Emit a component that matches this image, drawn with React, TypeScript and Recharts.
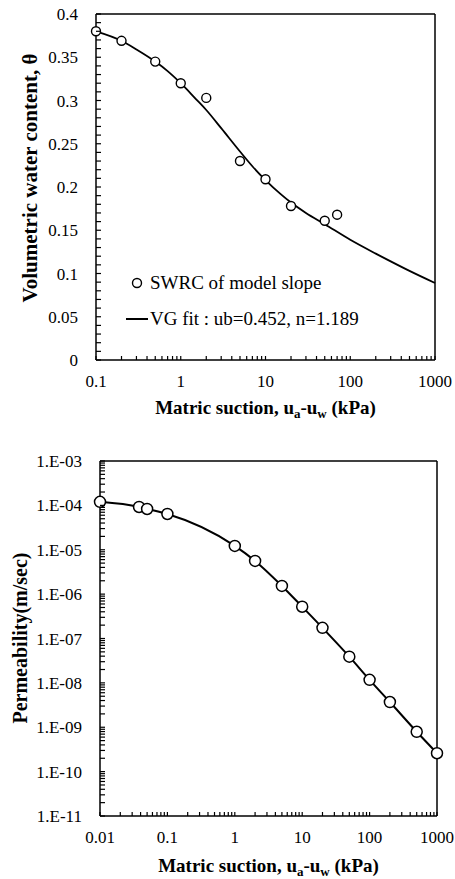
import { ComposedChart, Line, XAxis, YAxis, ReferenceLine } from 'recharts'

const SERIF = 'Liberation Serif, DejaVu Serif, serif'

// SWRC measured points
const swrcSuction = [0.1, 0.2, 0.5, 1, 2, 5, 10, 20, 50, 70]
const swrcTheta = [0.38, 0.369, 0.345, 0.32, 0.303, 0.23, 0.209, 0.178, 0.161, 0.168]

// VG fitted curve
const fitSuction = [0.1, 0.2, 0.3, 0.5, 0.7, 1, 1.5, 2, 3, 5, 7, 10, 15, 20, 30, 50, 100, 200, 300, 500, 1000]
const fitTheta = [0.38, 0.369, 0.359, 0.345, 0.334, 0.32, 0.302, 0.289, 0.268, 0.241, 0.224, 0.208, 0.192, 0.182, 0.17, 0.157, 0.139, 0.123, 0.114, 0.103, 0.089]

// permeability function
const permSuction = [0.01, 0.038, 0.05, 0.1, 1, 2, 5, 10, 20, 50, 100, 200, 500, 1000]
const permK = [1.2e-4, 9.2e-5, 8.3e-5, 6.4e-5, 1.22e-5, 5.6e-6, 1.53e-6, 5.2e-7, 1.74e-7, 3.9e-8, 1.17e-8, 3.7e-9, 7.9e-10, 2.6e-10]

const swrcData = swrcSuction.map((s, i) => ({ s, v: swrcTheta[i] }))
const fitData = fitSuction.map((s, i) => ({ s, v: fitTheta[i] }))
const permData = permSuction.map((s, i) => ({ s, v: permK[i] }))

const logTicks = (lo: number, hi: number) => {
  const t: number[] = []
  for (let e = lo; e <= hi; e++) {
    for (let m = 1; m < 10; m++) {
      if (e === hi && m > 1) break
      t.push(Number(`${m}e${e}`))
    }
  }
  return t
}
const isDecade = (v: number) => Math.abs(Math.log10(v) - Math.round(Math.log10(v))) < 1e-9
const thetaTicks = Array.from({ length: 41 }, (_, i) => i / 100)

const tickText = { fontFamily: SERIF, fontSize: 17, fill: '#000' }

function XTick(props: any) {
  const { x, y, payload } = props
  const v = payload.value
  return (
    <g>
      <line x1={x} x2={x} y1={y} y2={y - 4} stroke="#000" strokeWidth={1.2} />
      {isDecade(v) && (
        <text x={x} y={y + 27} textAnchor="middle" {...tickText}>{String(v)}</text>
      )}
    </g>
  )
}

function ThetaTick(props: any) {
  const { x, y, payload } = props
  const v = payload.value
  const n = Math.round(v * 100)
  return (
    <g>
      <line x1={x} x2={x + 5} y1={y} y2={y} stroke="#000" strokeWidth={1.2} />
      {n % 5 === 0 && (
        <text x={x - 18} y={y + 6} textAnchor="end" {...tickText}>{n === 0 ? '0' : String(n / 100)}</text>
      )}
    </g>
  )
}

function PermTick(props: any) {
  const { x, y, payload } = props
  const v = payload.value
  const e = Math.round(Math.log10(v))
  return (
    <g>
      <line x1={x} x2={x + 5} y1={y} y2={y} stroke="#000" strokeWidth={1.2} />
      {isDecade(v) && (
        <text x={x - 18} y={y + 6} textAnchor="end" {...tickText}>{`1.E-${String(-e).padStart(2, '0')}`}</text>
      )}
    </g>
  )
}

const SuctionTitle = ({ x, y }: { x: number; y: number }) => (
  <text x={x} y={y} textAnchor="middle" fontFamily={SERIF} fontSize={19} fontWeight="bold" fill="#000">
    Matric suction, u<tspan dy={4} fontSize={13}>a</tspan>
    <tspan dy={-4}>-u</tspan><tspan dy={4} fontSize={13}>w</tspan>
    <tspan dy={-4}> (kPa)</tspan>
  </text>
)

export default function App() {
  return (
    <div style={{ position: 'absolute', left: 0, top: 0, width: 455, height: 879, background: '#fff' }}>
      <div style={{ position: 'absolute', left: 0, top: 0 }}>
        <ComposedChart width={455} height={430} margin={{ top: 14, right: 20, left: 0, bottom: 0 }}>
          <XAxis
            dataKey="s"
            type="number"
            scale="log"
            domain={[0.1, 1000]}
            ticks={logTicks(-1, 3)}
            interval={0}
            tickSize={0}
            tickMargin={0}
            tickLine={false}
            height={70}
            axisLine={{ stroke: '#000', strokeWidth: 1.5 }}
            tick={(p: any) => <XTick {...p} />}
            label={{ content: () => <SuctionTitle x={265.5} y={414} /> }}
          />
          <YAxis
            type="number"
            domain={[0, 0.4]}
            ticks={thetaTicks}
            interval={0}
            width={96}
            tickSize={0}
            tickMargin={0}
            tickLine={false}
            axisLine={{ stroke: '#000', strokeWidth: 1.5 }}
            tick={(p: any) => <ThetaTick {...p} />}
            label={{
              content: () => (
                <text transform="translate(37,178) rotate(-90)" textAnchor="middle" fontFamily={SERIF} fontSize={21} fontWeight="bold" fill="#000">
                  Volumetric water content, θ
                </text>
              ),
            }}
          />
          <ReferenceLine y={0.4} stroke="#000" strokeWidth={1.5} />
          <ReferenceLine x={1000} stroke="#000" strokeWidth={1.5} />
          <Line data={fitData} dataKey="v" type="monotone" stroke="#000" strokeWidth={1.8} dot={false} isAnimationActive={false} />
          <Line
            data={swrcData}
            dataKey="v"
            stroke="none"
            dot={{ r: 4.5, fill: '#fff', stroke: '#000', strokeWidth: 1.4 }}
            isAnimationActive={false}
          />
        </ComposedChart>
        <div style={{ position: 'absolute', left: 124, top: 265, fontFamily: SERIF, fontSize: 19, color: '#000', lineHeight: '36px', whiteSpace: 'nowrap' }}>
          <div style={{ display: 'flex', alignItems: 'center', height: 36 }}>
            <svg width={26} height={20}><circle cx={13} cy={10} r={4.5} fill="#fff" stroke="#000" strokeWidth={1.4} /></svg>
            <span>SWRC of model slope</span>
          </div>
          <div style={{ display: 'flex', alignItems: 'center', height: 36 }}>
            <svg width={26} height={20}><line x1={2} x2={24} y1={10} y2={10} stroke="#000" strokeWidth={2} /></svg>
            <span>VG fit : ub=0.452, n=1.189</span>
          </div>
        </div>
      </div>
      <div style={{ position: 'absolute', left: 0, top: 430 }}>
        <ComposedChart width={455} height={449} margin={{ top: 31, right: 18, left: 0, bottom: 0 }}>
          <XAxis
            dataKey="s"
            type="number"
            scale="log"
            domain={[0.01, 1000]}
            ticks={logTicks(-2, 3)}
            interval={0}
            tickSize={0}
            tickMargin={0}
            tickLine={false}
            height={63}
            axisLine={{ stroke: '#000', strokeWidth: 1.5 }}
            tick={(p: any) => <XTick {...p} />}
            label={{ content: () => <SuctionTitle x={268.5} y={442} /> }}
          />
          <YAxis
            type="number"
            scale="log"
            domain={[1e-11, 1e-3]}
            ticks={logTicks(-11, -3)}
            interval={0}
            width={100}
            tickSize={0}
            tickMargin={0}
            tickLine={false}
            axisLine={{ stroke: '#000', strokeWidth: 1.5 }}
            tick={(p: any) => <PermTick {...p} />}
            label={{
              content: () => (
                <text transform="translate(27,208) rotate(-90)" textAnchor="middle" fontFamily={SERIF} fontSize={20} fontWeight="bold" fill="#000">
                  Permeability(m/sec)
                </text>
              ),
            }}
          />
          <ReferenceLine y={1e-3} stroke="#000" strokeWidth={1.5} />
          <ReferenceLine x={1000} stroke="#000" strokeWidth={1.5} />
          <Line
            data={permData}
            dataKey="v"
            type="monotone"
            stroke="#000"
            strokeWidth={2}
            dot={{ r: 5.5, fill: '#fff', stroke: '#000', strokeWidth: 1.5 }}
            isAnimationActive={false}
          />
        </ComposedChart>
      </div>
    </div>
  )
}
